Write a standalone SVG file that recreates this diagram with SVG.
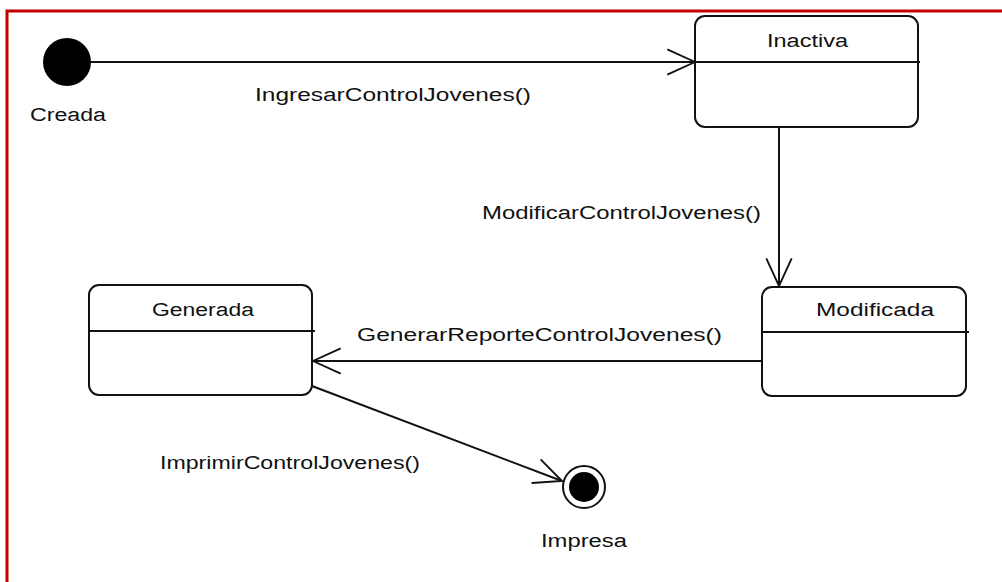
<svg xmlns="http://www.w3.org/2000/svg" width="1002" height="582" viewBox="0 0 1002 582">
<defs>
<style>
.frame{fill:none;stroke:#c00000;stroke-width:3}
.state{fill:#fff;stroke:#111;stroke-width:2}
.div{stroke:#111;stroke-width:2}
.conn{fill:none;stroke:#111;stroke-width:2}
.t{font-family:"Liberation Sans",Arial,sans-serif;font-size:18px;fill:#111}
</style>
<marker id="open" markerUnits="userSpaceOnUse" markerWidth="30" markerHeight="30" viewBox="0 0 26 24" refX="25" refY="12" orient="auto">
<path d="M1,1 L25,12 L1,23" fill="none" stroke="#111" stroke-width="1.6"/>
</marker>
</defs>
<rect width="1002" height="582" fill="#fff"/>
<rect class="frame" x="7" y="11" width="1010" height="600"/>

<g id="connectors">
<line class="conn" x1="91" y1="62" x2="695" y2="62" marker-end="url(#open)"/>
<line class="conn" x1="779" y1="127" x2="779" y2="286" marker-end="url(#open)"/>
<line class="conn" x1="762" y1="361" x2="313" y2="361" marker-end="url(#open)"/>
<line class="conn" x1="312" y1="386" x2="562" y2="481" marker-end="url(#open)"/>
<text class="t" x="255" y="101" textLength="276" lengthAdjust="spacingAndGlyphs">IngresarControlJovenes()</text>
<text class="t" x="482" y="219" textLength="279" lengthAdjust="spacingAndGlyphs">ModificarControlJovenes()</text>
<text class="t" x="357" y="341" textLength="365" lengthAdjust="spacingAndGlyphs">GenerarReporteControlJovenes()</text>
<text class="t" x="160" y="469" textLength="260" lengthAdjust="spacingAndGlyphs">ImprimirControlJovenes()</text>
</g>

<g id="creada">
<circle cx="67" cy="62" r="24" fill="#000"/>
<text class="t" x="30" y="121" textLength="76" lengthAdjust="spacingAndGlyphs">Creada</text>
</g>

<g id="inactiva">
<rect class="state" x="695" y="16" width="223" height="111" rx="10"/>
<line class="div" x1="695" y1="62" x2="920" y2="62"/>
<text class="t" x="767" y="47" textLength="81" lengthAdjust="spacingAndGlyphs">Inactiva</text>
</g>

<g id="modificada">
<rect class="state" x="762" y="287" width="204" height="109" rx="10"/>
<line class="div" x1="762" y1="332" x2="969" y2="332"/>
<text class="t" x="816" y="316" textLength="118" lengthAdjust="spacingAndGlyphs">Modificada</text>
</g>

<g id="generada">
<rect class="state" x="89" y="285" width="223" height="110" rx="10"/>
<line class="div" x1="89" y1="331" x2="315" y2="331"/>
<text class="t" x="152" y="316" textLength="102" lengthAdjust="spacingAndGlyphs">Generada</text>
</g>

<g id="impresa">
<circle cx="584" cy="487" r="21" fill="#fff" stroke="#111" stroke-width="2"/>
<circle cx="584" cy="487" r="15" fill="#000"/>
<text class="t" x="541" y="547" textLength="86" lengthAdjust="spacingAndGlyphs">Impresa</text>
</g>
</svg>
